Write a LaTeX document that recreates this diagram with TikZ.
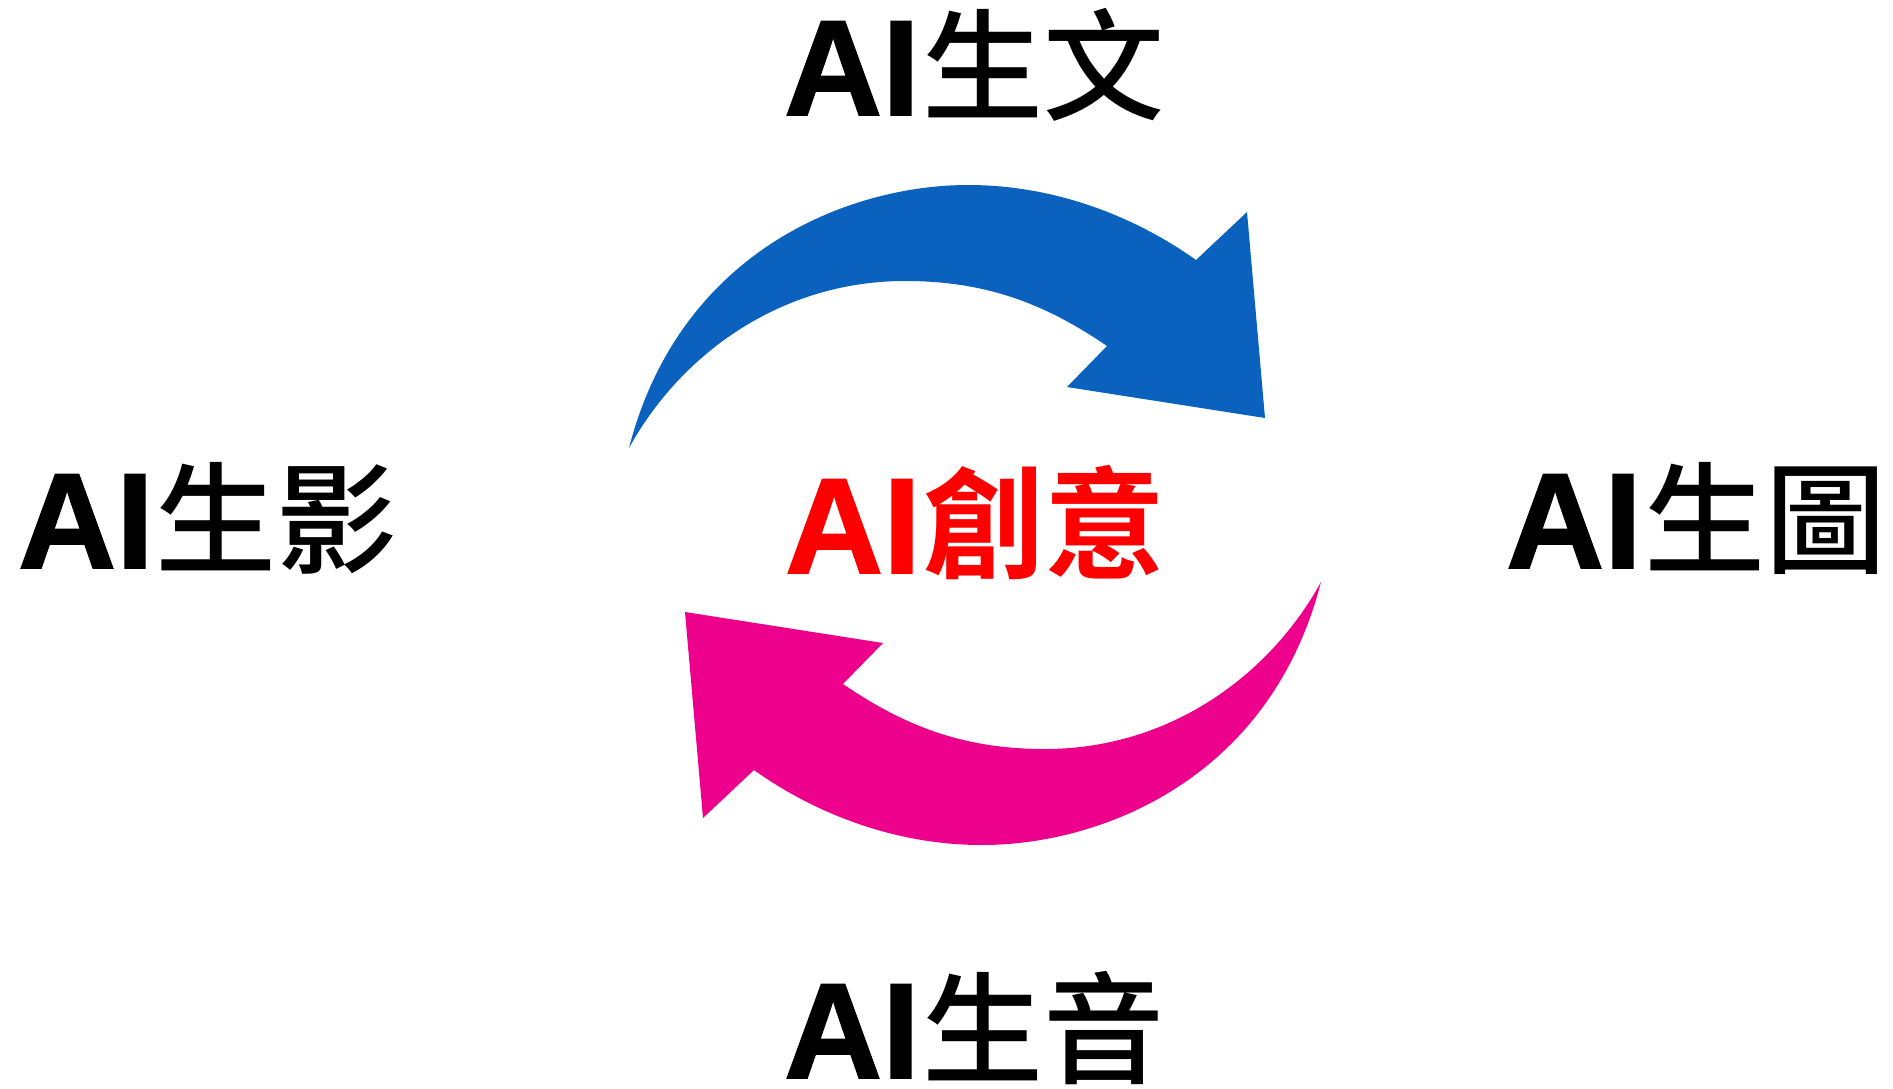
\documentclass[tikz,border=0pt]{standalone}
\usepackage{fontspec}
\usepackage{tikz}
\newfontfamily\cjkm{Noto Sans CJK TC Medium}
\newfontfamily\cjkb{Noto Sans CJK TC Bold}
\newfontfamily\latinb{Liberation Sans Bold}[FakeBold=1.2]
\newcommand\ailat{{\latinb\fontsize{136}{136}\selectfont AI}\hspace{2pt}}
\newcommand\hanzi[1]{\raisebox{4pt}{#1}}
\definecolor{arrblue}{RGB}{10,97,190}
\definecolor{arrpink}{RGB}{236,0,140}
\begin{document}
\begin{tikzpicture}[x=1pt,y=-1pt,
	lab/.style={anchor=base,inner sep=0pt,font=\cjkm\fontsize{121}{121}\selectfont},
	mid/.style={lab,text=red,font=\cjkb\fontsize{121}{121}\selectfont}]
\useasboundingbox (0,0) rectangle (1893,1088);
% the two turning arrows
\fill[arrblue] (629,448) .. controls (680,250) and (850,185) .. (968,185)
	.. controls (1060,185) and (1140,220) .. (1196,260)
	-- (1247,212) -- (1265,418) -- (1067,387) -- (1107,346)
	.. controls (1040,300) and (980,281) .. (905,281)
	.. controls (780,281) and (680,355) .. cycle;
\fill[arrpink,rotate around={180:(975,515)}] (629,448) .. controls (680,250) and (850,185) .. (968,185)
	.. controls (1060,185) and (1140,220) .. (1196,260)
	-- (1247,212) -- (1265,418) -- (1067,387) -- (1107,346)
	.. controls (1040,300) and (980,281) .. (905,281)
	.. controls (780,281) and (680,355) .. cycle;
% labels
\node[mid] (idea) at (975,573) {\ailat\hanzi{創意}};
\node[lab] (text) at (974,115) {\ailat\hanzi{生文}};
\node[lab] (video) at (208,568) {\ailat\hanzi{生影}};
\node[lab] (image) at (1696,568) {\ailat\hanzi{生圖}};
\node[lab] (sound) at (974,1078) {\ailat\hanzi{生音}};
\end{tikzpicture}
\end{document}
